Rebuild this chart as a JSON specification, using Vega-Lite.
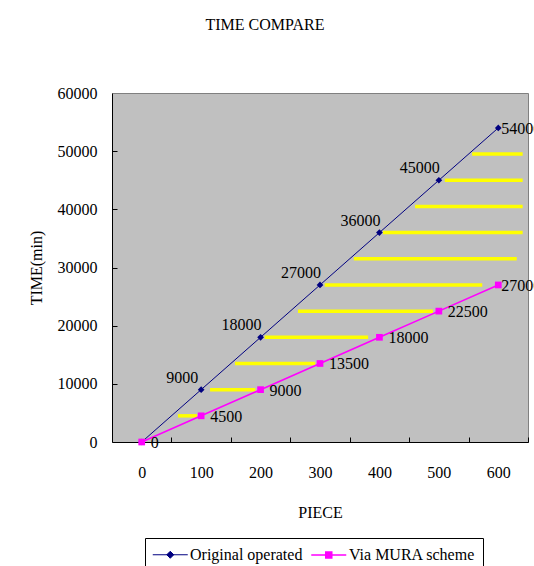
{
  "$schema": "https://vega.github.io/schema/vega-lite/v6.json",
  "autosize": {"type": "none"},
  "width": 416,
  "height": 349,
  "padding": {"left": 112, "top": 93, "right": 6, "bottom": 124},
  "background": "white",
  "config": {
    "font": "Liberation Serif",
    "view": {"fill": "#c0c0c0", "stroke": "#808080", "strokeWidth": 1},
    "legend": {"labelFont": "Liberation Serif", "labelFontSize": 16, "labelColor": "black"},
    "axis": {
      "domainColor": "black",
      "tickColor": "black",
      "labelColor": "black",
      "titleColor": "black",
      "labelFont": "Liberation Serif",
      "titleFont": "Liberation Serif",
      "labelFontSize": 16,
      "titleFontSize": 16,
      "titleFontWeight": "normal",
      "grid": false
    }
  },
  "title": {
    "text": "TIME COMPARE",
    "font": "Liberation Serif",
    "fontSize": 16,
    "fontWeight": "normal",
    "color": "black",
    "dx": -55,
    "offset": 52
  },
  "resolve": {"axis": {"x": "independent", "y": "independent"}},
  "datasets": {
    "series": [
      {"piece": 0, "time": 0, "series": "Original operated"},
      {"piece": 100, "time": 9000, "series": "Original operated"},
      {"piece": 200, "time": 18000, "series": "Original operated"},
      {"piece": 300, "time": 27000, "series": "Original operated"},
      {"piece": 400, "time": 36000, "series": "Original operated"},
      {"piece": 500, "time": 45000, "series": "Original operated"},
      {"piece": 600, "time": 54000, "series": "Original operated"},
      {"piece": 0, "time": 0, "series": "Via MURA scheme"},
      {"piece": 100, "time": 4500, "series": "Via MURA scheme"},
      {"piece": 200, "time": 9000, "series": "Via MURA scheme"},
      {"piece": 300, "time": 13500, "series": "Via MURA scheme"},
      {"piece": 400, "time": 18000, "series": "Via MURA scheme"},
      {"piece": 500, "time": 22500, "series": "Via MURA scheme"},
      {"piece": 600, "time": 27000, "series": "Via MURA scheme"}
    ],
    "bands": [
      {"level": 4500, "from": 61, "to": 93},
      {"level": 9000, "from": 115, "to": 191},
      {"level": 13500, "from": 157, "to": 292},
      {"level": 18000, "from": 207, "to": 381},
      {"level": 22500, "from": 263, "to": 490},
      {"level": 27000, "from": 308, "to": 573},
      {"level": 31500, "from": 357, "to": 631},
      {"level": 36000, "from": 406, "to": 641},
      {"level": 40500, "from": 460, "to": 641},
      {"level": 45000, "from": 510, "to": 641},
      {"level": 49500, "from": 556, "to": 641}
    ]
  },
  "layer": [
    {
      "data": {"name": "bands"},
      "mark": {"type": "rule", "color": "#ffff00", "strokeWidth": 3.5},
      "encoding": {
        "x": {
          "field": "from",
          "type": "quantitative",
          "scale": {"domain": [-50, 650], "nice": false, "zero": false},
          "axis": {
            "orient": "bottom",
            "title": "PIECE",
            "values": [0, 100, 200, 300, 400, 500, 600],
            "ticks": false,
            "labelPadding": 22,
            "labelFlush": false,
            "titlePadding": 24
          }
        },
        "x2": {"field": "to"},
        "y": {
          "field": "level",
          "type": "quantitative",
          "scale": {"domain": [0, 60000], "nice": false},
          "axis": {
            "orient": "left",
            "title": "TIME(min)",
            "values": [0, 10000, 20000, 30000, 40000, 50000, 60000],
            "ticks": false,
            "labelPadding": 15,
            "format": "d",
            "labelFlush": false,
            "titlePadding": 13
          }
        }
      }
    },
    {
      "data": {"name": "series"},
      "mark": {"type": "line"},
      "encoding": {
        "x": {
          "field": "piece",
          "type": "quantitative",
          "axis": {
            "orient": "bottom",
            "title": null,
            "values": [0, 100, 200, 300, 400, 500, 600],
            "labels": false,
            "domain": false,
            "ticks": true,
            "tickSize": 5,
            "tickOffset": 29.714,
            "offset": -5
          }
        },
        "y": {
          "field": "time",
          "type": "quantitative",
          "axis": {
            "orient": "left",
            "title": null,
            "values": [10000, 20000, 30000, 40000, 50000],
            "labels": false,
            "domain": false,
            "ticks": true,
            "tickSize": 5,
            "offset": -5
          }
        },
        "color": {
          "field": "series",
          "type": "nominal",
          "scale": {"domain": ["Original operated", "Via MURA scheme"], "range": ["#000080", "#ff00ff"]},
          "legend": {
            "title": null,
            "orient": "none",
            "legendX": 33,
            "legendY": 445,
            "direction": "horizontal",
            "strokeColor": "black",
            "fillColor": "white",
            "padding": 7,
            "labelFont": "Liberation Serif",
            "labelFontSize": 16,
            "labelColor": "black",
            "labelOffset": 19,
            "columnPadding": 5,
            "symbolSize": 306.25,
            "symbolStrokeWidth": 1,
            "symbolType": "M-1,0H3M1,-0.4L1.4,0L1,0.4L0.6,0Z",
            "encode": {
              "labels": {
                "update": {
                  "font": {"value": "Liberation Serif"},
                  "fontSize": {"value": 16}
                }
              },
              "symbols": {
                "update": {
                  "shape": {"signal": "datum.value === 'Original operated' ? 'M-1,0H3M1,-0.4L1.4,0L1,0.4L0.6,0Z' : 'M-1,0H3M0.66,-0.34H1.34V0.34H0.66Z'"},
                  "strokeWidth": {"value": 1},
                  "opacity": {"value": 1},
                  "strokeOpacity": {"value": 1},
                  "fillOpacity": {"value": 1},
                  "fill": {"signal": "datum.value === 'Original operated' ? '#000080' : '#ff00ff'"},
                  "stroke": {"signal": "datum.value === 'Original operated' ? '#000080' : '#ff00ff'"}
                }
              }
            }
          }
        },
        "strokeWidth": {
          "field": "series",
          "type": "nominal",
          "scale": {"domain": ["Original operated", "Via MURA scheme"], "range": [1, 1.6]},
          "legend": null
        }
      }
    },
    {
      "data": {"name": "series"},
      "transform": [{"filter": "datum.series === 'Original operated'"}],
      "mark": {"type": "point", "filled": true, "opacity": 1, "shape": "diamond", "size": 45, "color": "#000080"},
      "encoding": {
        "x": {"field": "piece", "type": "quantitative", "axis": null},
        "y": {"field": "time", "type": "quantitative", "axis": null}
      }
    },
    {
      "data": {"name": "series"},
      "transform": [{"filter": "datum.series === 'Via MURA scheme'"}],
      "mark": {"type": "point", "filled": true, "opacity": 1, "shape": "square", "size": 45, "color": "#ff00ff"},
      "encoding": {
        "x": {"field": "piece", "type": "quantitative", "axis": null},
        "y": {"field": "time", "type": "quantitative", "axis": null}
      }
    },
    {
      "data": {"name": "series"},
      "transform": [{"filter": "datum.series === 'Original operated' && datum.piece > 0 && datum.piece < 600"}],
      "mark": {"type": "text", "align": "center", "baseline": "middle", "dx": -19, "dy": -12, "fontSize": 16, "font": "Liberation Serif", "color": "black"},
      "encoding": {
        "x": {"field": "piece", "type": "quantitative", "axis": null},
        "y": {"field": "time", "type": "quantitative", "axis": null},
        "text": {"field": "time", "type": "quantitative", "format": "d"}
      }
    },
    {
      "data": {"name": "series"},
      "transform": [{"filter": "datum.series === 'Original operated' && datum.piece === 600"}],
      "mark": {"type": "text", "align": "left", "baseline": "middle", "dx": 3, "dy": 1, "fontSize": 16, "font": "Liberation Serif", "color": "black"},
      "encoding": {
        "x": {"field": "piece", "type": "quantitative", "axis": null},
        "y": {"field": "time", "type": "quantitative", "axis": null},
        "text": {"field": "time", "type": "quantitative", "format": "d"}
      }
    },
    {
      "data": {"name": "series"},
      "transform": [{"filter": "datum.series === 'Via MURA scheme' && datum.piece < 600"}],
      "mark": {"type": "text", "align": "left", "baseline": "middle", "dx": 9, "dy": 1, "fontSize": 16, "font": "Liberation Serif", "color": "black"},
      "encoding": {
        "x": {"field": "piece", "type": "quantitative", "axis": null},
        "y": {"field": "time", "type": "quantitative", "axis": null},
        "text": {"field": "time", "type": "quantitative", "format": "d"}
      }
    },
    {
      "data": {"name": "series"},
      "transform": [{"filter": "datum.series === 'Via MURA scheme' && datum.piece === 600"}],
      "mark": {"type": "text", "align": "left", "baseline": "middle", "dx": 3, "dy": 1, "fontSize": 16, "font": "Liberation Serif", "color": "black"},
      "encoding": {
        "x": {"field": "piece", "type": "quantitative", "axis": null},
        "y": {"field": "time", "type": "quantitative", "axis": null},
        "text": {"field": "time", "type": "quantitative", "format": "d"}
      }
    }
  ]
}
